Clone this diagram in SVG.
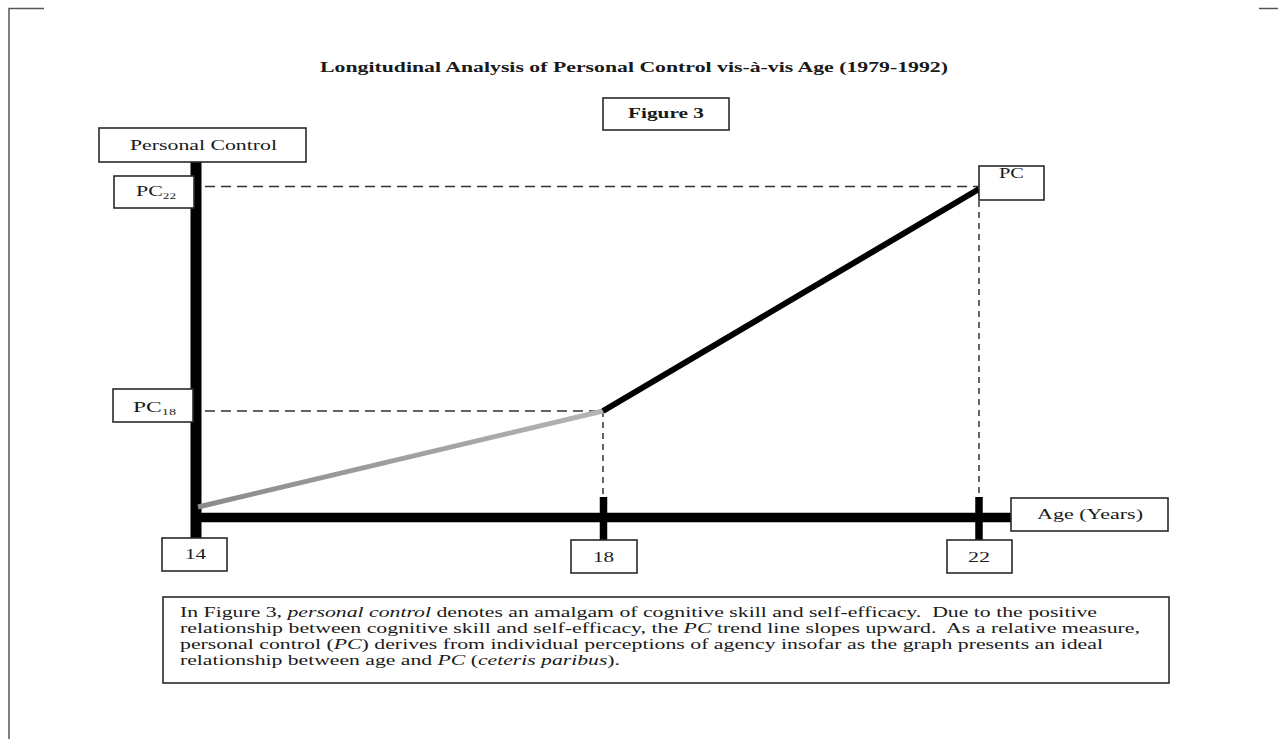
<svg xmlns="http://www.w3.org/2000/svg" width="1278" height="739" viewBox="0 0 1278 739">
<style>
.box{fill:#fff;stroke:#2a2a2a;stroke-width:1.6}
.lbl{font-family:"Liberation Serif","Times New Roman",serif;font-size:14px;fill:#1a1a1a}
.num{font-family:"Liberation Serif","Times New Roman",serif;font-size:15px;fill:#1a1a1a}
.sub{font-size:9px}
.dash{stroke:#333;stroke-width:1.5;fill:none}
.cap{font-family:"Liberation Serif","Times New Roman",serif;font-size:15px;fill:#1a1a1a;white-space:pre}
.it{font-style:italic}
</style>
<defs>
<linearGradient id="g" x1="198" y1="507" x2="603" y2="411" gradientUnits="userSpaceOnUse">
<stop offset="0" stop-color="#8a8a8a"/>
<stop offset="1" stop-color="#b4b4b4"/>
</linearGradient>
</defs>
<rect width="1278" height="739" fill="#fff"/>
<g id="page-edges" stroke="#555" stroke-width="1.5" fill="none">
<path d="M9,739 V8.5 H44"/>
<path d="M1259,8.5 H1278"/>
</g>
<g id="title">
<text x="320" y="72" class="lbl" font-weight="bold" font-size="14" textLength="628" lengthAdjust="spacingAndGlyphs">Longitudinal Analysis of Personal Control vis-à-vis Age (1979-1992)</text>
</g>
<g id="figure-label">
<rect class="box" x="603" y="98" width="126" height="32"/>
<text x="628" y="118" class="lbl" font-weight="bold" textLength="76" lengthAdjust="spacingAndGlyphs">Figure 3</text>
</g>
<g id="connectors">
<path class="dash" d="M205,186.5 H979" stroke-dasharray="10,6"/>
<path class="dash" d="M205,411 H603" stroke-dasharray="10,6"/>
<path class="dash" d="M603,411 V497" stroke-dasharray="6,5"/>
<path class="dash" d="M979,190 V497" stroke-dasharray="6,5"/>
<line x1="196" y1="162" x2="196" y2="538" stroke="#000" stroke-width="11"/>
<line x1="196" y1="517.5" x2="1011" y2="517.5" stroke="#000" stroke-width="9.5"/>
<line x1="603.5" y1="497" x2="603.5" y2="540" stroke="#000" stroke-width="7.5"/>
<line x1="979" y1="497" x2="979" y2="540" stroke="#000" stroke-width="7.5"/>
<line x1="198" y1="507" x2="603" y2="411" stroke="url(#g)" stroke-width="5"/>
<line x1="603" y1="411" x2="979" y2="189" stroke="#000" stroke-width="6"/>
</g>
<g id="y-axis-label">
<rect class="box" x="99" y="128" width="207" height="34"/>
<text x="130" y="150" class="lbl" textLength="147" lengthAdjust="spacingAndGlyphs">Personal Control</text>
</g>
<g id="pc22">
<rect class="box" x="114" y="176" width="80" height="32"/>
<text x="136" y="196" class="num" textLength="40" lengthAdjust="spacingAndGlyphs">PC<tspan class="sub" dy="3">22</tspan></text>
</g>
<g id="pc18">
<rect class="box" x="113" y="389" width="80" height="33"/>
<text x="133" y="412" class="num" textLength="43" lengthAdjust="spacingAndGlyphs">PC<tspan class="sub" dy="3">18</tspan></text>
</g>
<g id="pc">
<rect class="box" x="979" y="166" width="65" height="34"/>
<text x="999" y="178" class="num" textLength="25" lengthAdjust="spacingAndGlyphs">PC</text>
</g>
<g id="tick-14">
<rect class="box" x="162" y="538" width="65" height="33"/>
<text x="185" y="559" class="num" textLength="21" lengthAdjust="spacingAndGlyphs">14</text>
</g>
<g id="tick-18">
<rect class="box" x="571" y="540" width="66" height="33"/>
<text x="593" y="562" class="num" textLength="21" lengthAdjust="spacingAndGlyphs">18</text>
</g>
<g id="tick-22">
<rect class="box" x="947" y="540" width="65" height="33"/>
<text x="968" y="562" class="num" textLength="22" lengthAdjust="spacingAndGlyphs">22</text>
</g>
<g id="x-axis-label">
<rect class="box" x="1011" y="498" width="157" height="33"/>
<text x="1037" y="519" class="lbl" textLength="106" lengthAdjust="spacingAndGlyphs">Age (Years)</text>
</g>
<g id="caption">
<rect class="box" x="163" y="597" width="1006" height="86" stroke-width="2"/>
<text x="180" y="617" class="cap" textLength="917" lengthAdjust="spacingAndGlyphs">In Figure 3, <tspan class="it">personal control</tspan> denotes an amalgam of cognitive skill and self-efficacy.  Due to the positive</text>
<text x="180" y="633" class="cap" textLength="960" lengthAdjust="spacingAndGlyphs">relationship between cognitive skill and self-efficacy, the <tspan class="it">PC</tspan> trend line slopes upward.  As a relative measure,</text>
<text x="180" y="649" class="cap" textLength="923" lengthAdjust="spacingAndGlyphs">personal control (<tspan class="it">PC</tspan>) derives from individual perceptions of agency insofar as the graph presents an ideal</text>
<text x="180" y="665" class="cap" textLength="440" lengthAdjust="spacingAndGlyphs">relationship between age and <tspan class="it">PC</tspan> (<tspan class="it">ceteris paribus</tspan>).</text>
</g>
</svg>
